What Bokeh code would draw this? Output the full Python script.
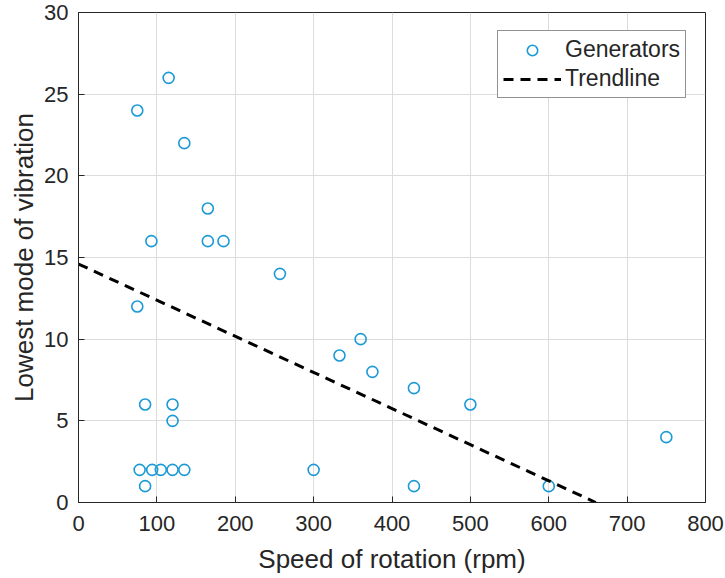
from bokeh.plotting import figure
from bokeh.models import Range1d, Legend, LegendItem, FixedTicker
from bokeh.embed import file_html
from bokeh.resources import INLINE

# Data
speed_rpm = [75, 115, 135, 165, 93, 165, 185, 257, 75, 85, 120, 120, 78, 94, 105,
             120, 135, 85, 300, 360, 333, 375, 428, 500, 750, 428, 600]
lowest_mode = [24, 26, 22, 18, 16, 16, 16, 14, 12, 6, 6, 5, 2, 2, 2,
               2, 2, 1, 2, 10, 9, 8, 7, 6, 4, 1, 1]
trend_x = [0, 660]
trend_y = [14.6, 0]
x_ticks = [0, 100, 200, 300, 400, 500, 600, 700, 800]
y_ticks = [0, 5, 10, 15, 20, 25, 30]

FONT = "Liberation Sans"
AXC = "#262626"

p = figure(frame_width=627, frame_height=490, output_backend="svg",
           toolbar_location=None, x_range=Range1d(0, 800), y_range=Range1d(0, 30),
           min_border_left=78, min_border_top=12, min_border_right=20, min_border_bottom=10)
p.background_fill_color = "white"
p.border_fill_color = "white"
p.outline_line_color = AXC
p.outline_line_width = 1

for ax in (p.xaxis[0], p.yaxis[0]):
    ax.axis_line_color = AXC
    ax.major_tick_line_color = AXC
    ax.major_tick_in = 6
    ax.major_tick_out = 0
    ax.minor_tick_line_color = None
    ax.major_label_text_font = FONT
    ax.major_label_text_font_size = "22px"
    ax.major_label_text_color = AXC
    ax.axis_label_text_font = FONT
    ax.axis_label_text_font_size = "26px"
    ax.axis_label_text_font_style = "normal"
    ax.axis_label_text_color = AXC

p.xaxis.ticker = FixedTicker(ticks=x_ticks)
p.yaxis.ticker = FixedTicker(ticks=y_ticks)
p.xaxis.axis_label = "Speed of rotation (rpm)"
p.yaxis.axis_label = "Lowest mode of vibration"
p.xaxis.major_label_standoff = 13
p.yaxis.major_label_standoff = 10
p.xaxis.axis_label_standoff = 10
p.yaxis.axis_label_standoff = 2

p.xgrid.grid_line_color = "#dcdcdc"
p.ygrid.grid_line_color = "#dcdcdc"

r_pts = p.scatter(speed_rpm, lowest_mode, marker="circle", size=11,
                  fill_color=None, line_color="#1c9ad6", line_width=1.6)
r_line = p.line(trend_x, trend_y, line_color="black", line_width=3, line_dash="10 7")

legend = Legend(items=[LegendItem(label="Generators", renderers=[r_pts]),
                       LegendItem(label="Trendline", renderers=[r_line])],
                location=(419, 404))
legend.label_text_font = FONT
legend.label_text_font_size = "23px"
legend.label_text_color = AXC
legend.glyph_width = 58
legend.glyph_height = 26
legend.label_height = 26
legend.label_standoff = 4
legend.spacing = 2
legend.padding = 5
legend.margin = 0
legend.border_line_color = AXC
legend.border_line_width = 1
legend.background_fill_color = "white"
legend.background_fill_alpha = 1
p.add_layout(legend, "center")

open("out.html", "w").write(file_html(p, INLINE))
